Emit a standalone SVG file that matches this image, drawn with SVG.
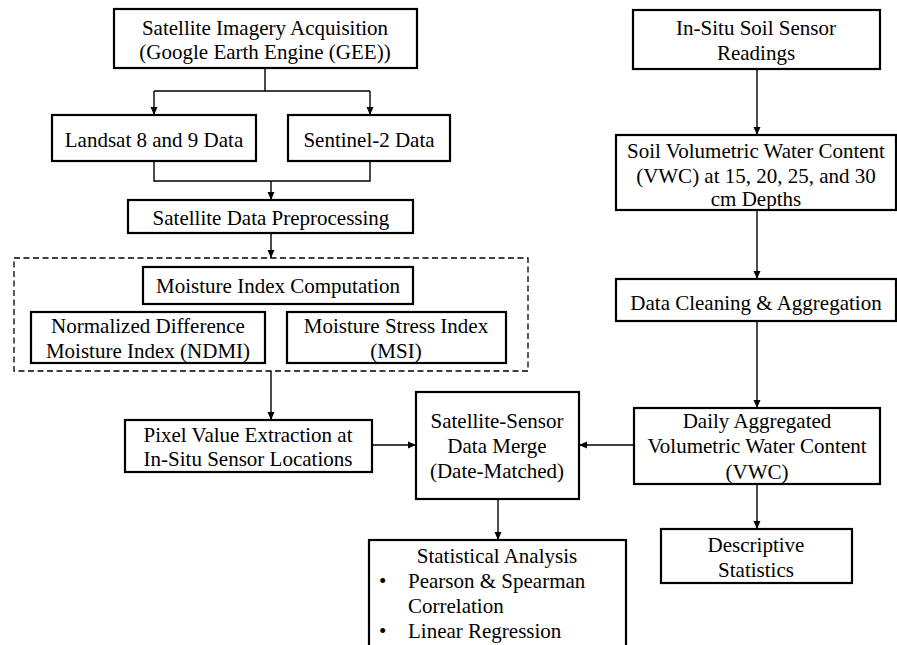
<svg xmlns="http://www.w3.org/2000/svg" width="897" height="645" viewBox="0 0 897 645">
<style>
.box{fill:#fff;stroke:#000;stroke-width:2.2}
.dash{fill:none;stroke:#000;stroke-width:1.3;stroke-dasharray:6,3.5}
.ln{fill:none;stroke:#000;stroke-width:1.4}
.arr{fill:none;stroke:#000;stroke-width:1.4;marker-end:url(#ah)}
text{font-family:"Liberation Serif","Times New Roman",serif;font-size:21px;fill:#000;text-anchor:middle}
.l{text-anchor:start}
</style>
<defs>
<marker id="ah" markerWidth="8" markerHeight="8" viewBox="0 0 8 8" refX="8" refY="4" orient="auto" markerUnits="userSpaceOnUse">
<path d="M0,0.5 L8,4 L0,7.5 Z" fill="#000"/>
</marker>
</defs>
<rect width="897" height="645" fill="#fff"/>
<g id="connectors">
<path class="ln" d="M265,68 V91 H154"/>
<path class="ln" d="M265,91 H370"/>
<path class="arr" d="M154,91 V115"/>
<path class="arr" d="M370,91 V115"/>
<path class="ln" d="M154,161 V181 H370 V161"/>
<path class="arr" d="M271,181 V200"/>
<path class="arr" d="M271,233 V258"/>
<path class="arr" d="M271,371 V420"/>
<path class="arr" d="M372,445 H416"/>
<path class="arr" d="M498,499 V540"/>
<path class="arr" d="M757,69 V135"/>
<path class="arr" d="M757,210 V279"/>
<path class="arr" d="M757,321 V408"/>
<path class="arr" d="M634,445 H579"/>
<path class="arr" d="M757,484 V529"/>
</g>
<g id="n-acq">
<rect class="box" x="114" y="9" width="303" height="59"/>
<text x="265" y="35">Satellite Imagery Acquisition</text>
<text x="265" y="59">(Google Earth Engine (GEE))</text>
</g>
<g id="n-landsat">
<rect class="box" x="52" y="115" width="204" height="46"/>
<text x="154" y="147">Landsat 8 and 9 Data</text>
</g>
<g id="n-sentinel">
<rect class="box" x="288" y="115" width="162" height="46"/>
<text x="369" y="147">Sentinel-2 Data</text>
</g>
<g id="n-preproc">
<rect class="box" x="128" y="200" width="285" height="33"/>
<text x="271" y="225">Satellite Data Preprocessing</text>
</g>
<g id="n-group">
<rect class="dash" x="14" y="258" width="514" height="113"/>
</g>
<g id="n-mic">
<rect class="box" x="143" y="267" width="270" height="37"/>
<text x="278" y="293">Moisture Index Computation</text>
</g>
<g id="n-ndmi">
<rect class="box" x="31" y="312" width="234" height="51"/>
<text x="148" y="333">Normalized Difference</text>
<text x="148" y="358">Moisture Index (NDMI)</text>
</g>
<g id="n-msi">
<rect class="box" x="287" y="312" width="219" height="51"/>
<text x="396" y="333">Moisture Stress Index</text>
<text x="396" y="358">(MSI)</text>
</g>
<g id="n-pixel">
<rect class="box" x="125" y="420" width="247" height="52"/>
<text x="248" y="442">Pixel Value Extraction at</text>
<text x="248" y="466">In-Situ Sensor Locations</text>
</g>
<g id="n-merge">
<rect class="box" x="416" y="392" width="163" height="107"/>
<text x="497" y="428">Satellite-Sensor</text>
<text x="497" y="453">Data Merge</text>
<text x="497" y="478">(Date-Matched)</text>
</g>
<g id="n-stats">
<rect class="box" x="369" y="540" width="257" height="112"/>
<text x="497" y="563">Statistical Analysis</text>
<text class="l" x="379" y="588">•</text>
<text class="l" x="408" y="588">Pearson &amp; Spearman</text>
<text class="l" x="408" y="613">Correlation</text>
<text class="l" x="379" y="638">•</text>
<text class="l" x="408" y="638">Linear Regression</text>
</g>
<g id="n-insitu">
<rect class="box" x="633" y="10" width="247" height="59"/>
<text x="756" y="35">In-Situ Soil Sensor</text>
<text x="756" y="60">Readings</text>
</g>
<g id="n-vwc">
<rect class="box" x="616" y="135" width="280" height="75"/>
<text x="756" y="158">Soil Volumetric Water Content</text>
<text x="756" y="183">(VWC) at 15, 20, 25, and 30</text>
<text x="756" y="206">cm Depths</text>
</g>
<g id="n-clean">
<rect class="box" x="616" y="279" width="280" height="42"/>
<text x="756" y="310">Data Cleaning &amp; Aggregation</text>
</g>
<g id="n-daily">
<rect class="box" x="634" y="408" width="246" height="76"/>
<text x="757" y="428">Daily Aggregated</text>
<text x="757" y="453">Volumetric Water Content</text>
<text x="757" y="479">(VWC)</text>
</g>
<g id="n-desc">
<rect class="box" x="661" y="529" width="191" height="54"/>
<text x="756" y="552">Descriptive</text>
<text x="756" y="577">Statistics</text>
</g>
</svg>
